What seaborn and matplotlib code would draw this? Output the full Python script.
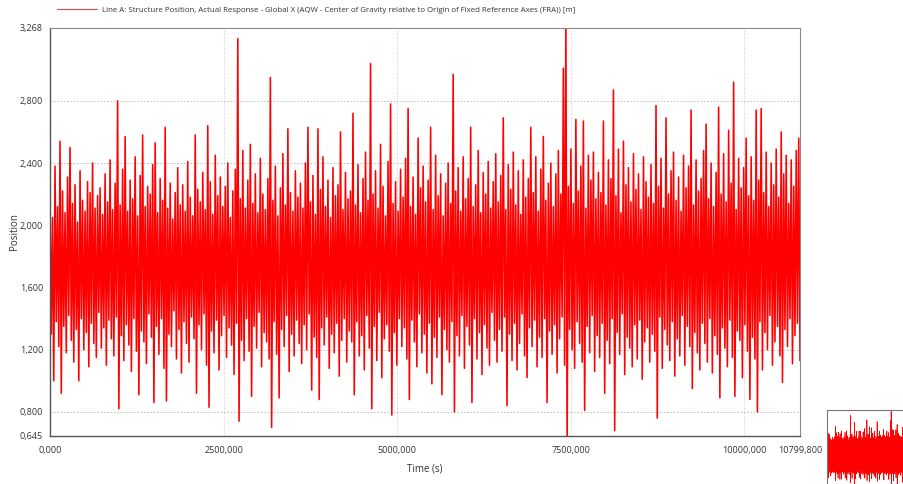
import numpy as np
import pandas as pd
import matplotlib
matplotlib.use("Agg")
import matplotlib.pyplot as plt
from matplotlib.lines import Line2D
import seaborn as sns

# response: per time step one upper and one lower excursion
series_label = ("Line A: Structure Position, Actual Response - Global X (AQW - Center of Gravity "
                "relative to Origin of Fixed Reference Axes (FRA)) [m]")
time_end = 10799.8

highs = [
    2.18, 2.05, 2.38, 2.12, 2.54, 2.22, 2.08, 2.31, 2.50, 2.14, 2.26, 2.02, 2.35, 2.16, 2.09, 2.28, 2.21, 2.40, 2.11, 2.19,
    2.24, 2.07, 2.33, 2.15, 2.42, 2.10, 2.27, 2.80, 2.13, 2.36, 2.57, 2.09, 2.29, 2.17, 2.44, 2.06, 2.32, 2.58, 2.12, 2.25,
    2.20, 2.39, 2.53, 2.08, 2.30, 2.16, 2.63, 2.11, 2.27, 2.04, 2.21, 2.37, 2.13, 2.26, 2.09, 2.41, 2.18, 2.06, 2.58, 2.23,
    2.15, 2.34, 2.10, 2.64, 2.28, 2.07, 2.45, 2.19, 2.31, 2.12, 2.25, 2.40, 2.05, 2.22, 2.36, 3.20, 2.17, 2.48, 2.11, 2.29,
    2.52, 2.14, 2.33, 2.08, 2.43, 2.20, 2.10, 2.30, 2.95, 2.16, 2.38, 2.06, 2.24, 2.46, 2.13, 2.62, 2.21, 2.09, 2.35, 2.18,
    2.27, 2.11, 2.40, 2.63, 2.15, 2.32, 2.07, 2.62, 2.23, 2.44, 2.12, 2.29, 2.05, 2.37, 2.19, 2.26, 2.60, 2.10, 2.34, 2.17,
    2.22, 2.72, 2.13, 2.39, 2.08, 2.30, 2.47, 2.16, 3.04, 2.20, 2.35, 2.11, 2.52, 2.25, 2.06, 2.41, 2.78, 2.14, 2.28, 2.09,
    2.36, 2.18, 2.43, 2.75, 2.12, 2.31, 2.07, 2.56, 2.24, 2.38, 2.15, 2.29, 2.63, 2.10, 2.45, 2.19, 2.33, 2.06, 2.27, 2.40,
    2.14, 2.97, 2.22, 2.37, 2.09, 2.44, 2.17, 2.30, 2.63, 2.12, 2.26, 2.48, 2.08, 2.34, 2.20, 2.41, 2.11, 2.28, 2.46, 2.15,
    2.32, 2.69, 2.10, 2.39, 2.23, 2.47, 2.13, 2.35, 2.07, 2.42, 2.18, 2.30, 2.63, 2.21, 2.44, 2.09, 2.36, 2.57, 2.16, 2.27,
    2.40, 2.12, 2.33, 2.48, 2.20, 3.01, 3.35, 2.25, 2.49, 2.14, 2.68, 2.22, 2.38, 2.67, 2.11, 2.45, 2.29, 2.47, 2.17, 2.34,
    2.21, 2.67, 2.13, 2.42, 2.30, 2.87, 2.19, 2.49, 2.08, 2.54, 2.26, 2.37, 2.15, 2.46, 2.23, 2.33, 2.10, 2.44, 2.28, 2.18,
    2.39, 2.14, 2.77, 2.25, 2.43, 2.11, 2.69, 2.20, 2.35, 2.47, 2.16, 2.31, 2.09, 2.45, 2.24, 2.38, 2.74, 2.13, 2.42, 2.22,
    2.30, 2.48, 2.65, 2.17, 2.40, 2.12, 2.34, 2.76, 2.20, 2.46, 2.15, 2.61, 2.27, 2.92, 2.10, 2.43, 2.24, 2.37, 2.56, 2.19,
    2.44, 2.16, 2.74, 2.29, 2.75, 2.21, 2.47, 2.12, 2.40, 2.26, 2.49, 2.18, 2.60, 2.33, 2.45, 2.14, 2.42, 2.25, 2.48, 2.56,
]

lows = [
    1.30, 1.00, 1.38, 1.22, 0.92, 1.35, 1.18, 1.42, 1.26, 1.12, 1.33, 1.00, 1.40, 1.20, 1.31, 1.09, 1.37, 1.24, 1.15, 1.44,
    1.21, 1.34, 1.10, 1.39, 1.27, 1.16, 1.41, 0.82, 1.29, 1.13, 1.36, 1.23, 1.06, 1.40, 1.19, 0.91, 1.32, 1.25, 1.11, 1.43,
    1.28, 0.86, 1.35, 1.17, 1.40, 1.08, 0.87, 1.30, 1.22, 1.45, 1.14, 1.33, 1.05, 1.38, 1.24, 1.12, 1.41, 1.27, 0.92, 1.36,
    1.20, 1.43, 1.10, 0.83, 1.32, 1.18, 1.39, 1.07, 1.29, 1.42, 1.15, 1.34, 1.23, 1.04, 1.37, 0.74, 1.26, 1.13, 1.40, 1.19,
    0.90, 1.35, 1.21, 1.44, 1.09, 1.31, 1.25, 1.14, 0.70, 1.38, 1.17, 0.89, 1.33, 1.22, 1.42, 1.06, 1.30, 1.16, 1.39, 1.24,
    1.11, 1.36, 1.20, 1.43, 0.94, 1.28, 1.15, 0.88, 1.34, 1.23, 1.41, 1.08, 1.30, 1.18, 1.37, 1.03, 1.26, 1.40, 1.12, 1.32,
    1.25, 0.91, 1.38, 1.16, 1.29, 1.07, 1.42, 1.21, 0.82, 1.35, 1.13, 1.44, 1.02, 1.27, 1.36, 1.19, 0.78, 1.31, 1.10, 1.40,
    1.22, 1.34, 1.14, 0.88, 1.39, 1.25, 1.09, 1.43, 1.18, 1.30, 1.05, 1.37, 0.98, 1.28, 1.15, 1.41, 0.91, 1.33, 1.20, 1.12,
    1.38, 0.80, 1.29, 1.16, 1.42, 1.08, 1.35, 1.23, 0.86, 1.40, 1.14, 1.31, 1.04, 1.36, 1.21, 1.10, 1.44, 1.26, 1.12, 1.33,
    1.19, 1.41, 0.84, 1.30, 1.13, 1.37, 1.07, 1.24, 1.43, 1.16, 1.02, 1.34, 1.22, 1.39, 1.09, 1.28, 1.15, 1.40, 0.86, 1.32,
    1.17, 1.36, 1.05, 1.27, 1.41, 1.10, 0.60, 1.33, 1.20, 1.08, 1.38, 1.24, 1.12, 0.81, 1.35, 1.18, 1.42, 1.06, 1.29, 1.15,
    1.37, 0.92, 1.26, 1.11, 1.40, 0.68, 1.31, 1.17, 1.43, 1.04, 1.28, 1.21, 1.09, 1.36, 1.14, 1.39, 1.01, 1.25, 1.34, 1.12,
    1.30, 1.19, 0.76, 1.41, 1.08, 1.33, 1.23, 1.13, 1.38, 1.03, 1.27, 1.16, 1.42, 1.10, 1.35, 1.22, 0.95, 1.31, 1.18, 1.07,
    1.37, 1.24, 1.12, 1.40, 1.05, 1.29, 1.17, 0.89, 1.34, 1.21, 1.09, 1.39, 1.15, 0.90, 1.32, 1.26, 1.02, 1.36, 1.19, 0.88,
    1.28, 1.14, 0.80, 1.38, 1.07, 1.31, 1.20, 1.42, 1.10, 1.25, 1.35, 1.16, 0.99, 1.33, 1.22, 1.40, 1.11, 1.29, 1.37, 1.13,
]

y_ticks = [0.645, 0.8, 1.2, 1.6, 2.0, 2.4, 2.8, 3.268]
x_ticks = [0, 2500, 5000, 7500, 10000, 10799.8]


def comma(v):
    return f"{v:.3f}".replace(".", ",")


values = np.column_stack([highs, lows]).ravel()
df = pd.DataFrame({"time": np.linspace(0, time_end, len(values)), "position": values})

sns.set_style("white")
plt.rcParams["font.family"] = ["Open Sans", "DejaVu Sans"]

fig = plt.figure(figsize=(9.04, 4.84), dpi=100)
ax = fig.add_axes([50 / 904, 1 - 436 / 484, 750 / 904, 408 / 484])

sns.lineplot(data=df, x="time", y="position", ax=ax, color="#ff0000", lw=1.15,
             estimator=None, sort=False, legend=False)

ax.set_xlim(0, time_end)
ax.set_ylim(y_ticks[0], y_ticks[-1])
ax.set_xticks(x_ticks)
ax.set_xticklabels([comma(v) for v in x_ticks], fontsize=6.5, color="#333333")
ax.set_yticks(y_ticks)
ax.set_yticklabels([comma(v) for v in y_ticks], fontsize=6.5, color="#333333")
ax.tick_params(axis="both", length=3, width=0.6, color="#777777", pad=2)
ax.tick_params(axis="x", pad=4)
ax.set_xlabel("Time (s)", fontsize=7, color="#333333", labelpad=6)
ax.set_ylabel("Position", fontsize=7, color="#333333", labelpad=0)

for v in y_ticks[1:-1]:
    ax.axhline(v, color="#b8b8b8", lw=0.6, ls=(0, (2, 2)), zorder=0)
for v in x_ticks[1:-1]:
    ax.axvline(v, color="#b8b8b8", lw=0.6, ls=(0, (1, 2)), zorder=0)

for side in ["top", "right"]:
    ax.spines[side].set_color("#8a8a8a")
    ax.spines[side].set_linewidth(0.8)
for side in ["left", "bottom"]:
    ax.spines[side].set_color("#555555")
    ax.spines[side].set_linewidth(1.0)

proxy = Line2D([], [], color="#d04848", lw=0.8)
fig.legend([proxy], [series_label], loc="center left", bbox_to_anchor=(50 / 904, 1 - 10 / 484),
           frameon=False, fontsize=5.7, handlelength=5.0, handletextpad=0.7, labelcolor="#333333")

# small overview thumbnail in the lower right corner
inset = fig.add_axes([827 / 904, -8 / 484, 84 / 904, 82 / 484])
sns.lineplot(data=df, x="time", y="position", ax=inset, color="#ff0000", lw=0.5,
             estimator=None, sort=False, legend=False)
inset.set_xlim(0, time_end * 0.9)
inset.set_ylim(0.4, 3.4)
inset.set_xticks([])
inset.set_yticks([])
inset.set_xlabel("")
inset.set_ylabel("")
for s in inset.spines.values():
    s.set_color("#777777")
    s.set_linewidth(0.8)

fig.savefig("out.png", dpi=100)
